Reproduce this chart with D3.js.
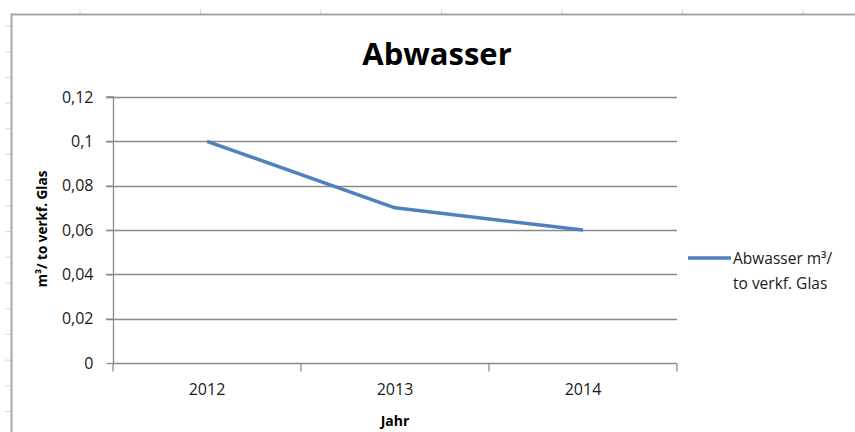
<!DOCTYPE html>
<html><head><meta charset="utf-8">
<script src="https://cdn.jsdelivr.net/npm/d3@7"></script>
<style>
html,body{margin:0;padding:0;background:#fff;}
svg{display:block;font-family:"Open Sans",sans-serif;}
</style></head>
<body>
<svg id="c" width="855" height="432"></svg>
<script>
const categories = ["2012", "2013", "2014"];
const values = [0.1, 0.07, 0.06];
const yTicks = [0, 0.02, 0.04, 0.06, 0.08, 0.1, 0.12];
const yTickLabels = ["0", "0,02", "0,04", "0,06", "0,08", "0,1", "0,12"];
const seriesName = ["Abwasser m³/", "to verkf. Glas"];
const title = "Abwasser";
const yTitle = "m³/ to verkf. Glas";
const xTitle = "Jahr";

const svg = d3.select("#c");

// spreadsheet background marks
const sheetTop = d3.range(80, 855, 120.5);
svg.selectAll("line.st").data(sheetTop).join("line")
  .attr("x1", d => d).attr("x2", d => d).attr("y1", 9).attr("y2", 14)
  .attr("stroke", "#d8d8d8").attr("stroke-width", 1);
const sheetLeft = d3.range(26, 432, 25.7);
svg.selectAll("line.sl").data(sheetLeft).join("line")
  .attr("x1", 5).attr("x2", 11).attr("y1", d => d).attr("y2", d => d)
  .attr("stroke", "#d8d8d8").attr("stroke-width", 1);

// chart frame
svg.append("path").attr("d", "M11.5,432 L11.5,14.5 L855,14.5")
  .attr("fill", "none").attr("stroke", "#a6a6a6").attr("stroke-width", 2);

const x0 = 113, x1 = 677, yTop = 97, yBot = 363;
const x = d3.scalePoint().domain(categories).range([x0, x1]).padding(0.5);
const xb = d3.scaleBand().domain(categories).range([x0, x1]);
const y = d3.scaleLinear().domain([0, 0.12]).range([yBot, yTop]);

// gridlines
svg.append("g").selectAll("line").data(yTicks.filter(d => d > 0)).join("line")
  .attr("x1", x0 - 7).attr("x2", x1).attr("y1", d => Math.round(y(d)) + 0.5).attr("y2", d => Math.round(y(d)) + 0.5)
  .attr("stroke", "#8a8a8a").attr("stroke-width", 1.3);

// y axis
const yAxis = d3.axisLeft(y).tickValues(yTicks).tickSize(7).tickPadding(13)
  .tickFormat((d, i) => yTickLabels[i]);
const gy = svg.append("g").attr("transform", `translate(${x0 + 0.5},0)`).call(yAxis);
gy.select(".domain").attr("stroke", "#8a8a8a").attr("stroke-width", 1.3).attr("d", `M-7,${yTop}H0V${yBot}`);
gy.selectAll(".tick line").attr("stroke", "#8a8a8a").attr("stroke-width", 1.3);
gy.selectAll(".tick text").attr("font-size", 16).attr("fill", "#1a1a1a").attr("font-family", "'Open Sans',sans-serif");

// x axis
const xAxis = d3.axisBottom(xb).tickSize(0).tickPadding(20);
const gx = svg.append("g").attr("transform", `translate(0,${yBot + 0.5})`).call(xAxis);
gx.select(".domain").attr("stroke", "#8a8a8a").attr("stroke-width", 1.3).attr("d", `M${x0},0H${x1}`);
gx.selectAll(".tick text").attr("font-size", 16).attr("fill", "#1a1a1a").attr("font-family", "'Open Sans',sans-serif");
// category boundary ticks
const bounds = categories.map(c => xb(c)).concat([x1]);
gx.selectAll("line.bt").data(bounds).join("line")
  .attr("x1", d => d).attr("x2", d => d).attr("y1", 0).attr("y2", 8)
  .attr("stroke", "#8a8a8a").attr("stroke-width", 1.3);

// series line
const line = d3.line().x((d, i) => x(categories[i])).y(d => y(d));
svg.append("path").datum(values).attr("d", line)
  .attr("fill", "none").attr("stroke", "#4f81bd").attr("stroke-width", 3.5).attr("stroke-linejoin", "round");

// title
svg.append("text").attr("x", 437).attr("y", 65).attr("text-anchor", "middle")
  .attr("font-size", 31).attr("font-weight", "bold").attr("fill", "#000").text(title);

// axis titles
svg.append("text").attr("transform", `translate(47,229) rotate(-90)`).attr("text-anchor", "middle")
  .attr("font-size", 13.5).attr("font-weight", "bold").attr("fill", "#000").text(yTitle);
svg.append("text").attr("x", 395).attr("y", 426).attr("text-anchor", "middle")
  .attr("font-size", 14).attr("font-weight", "bold").attr("fill", "#000").text(xTitle);

// legend
svg.append("line").attr("x1", 688).attr("x2", 731).attr("y1", 258).attr("y2", 258)
  .attr("stroke", "#4f81bd").attr("stroke-width", 3.5);
svg.append("text").attr("x", 733).attr("y", 264).attr("font-size", 15.5).attr("fill", "#1a1a1a").text(seriesName[0]);
svg.append("text").attr("x", 733).attr("y", 289).attr("font-size", 15.5).attr("fill", "#1a1a1a").text(seriesName[1]);
</script>
</body></html>
